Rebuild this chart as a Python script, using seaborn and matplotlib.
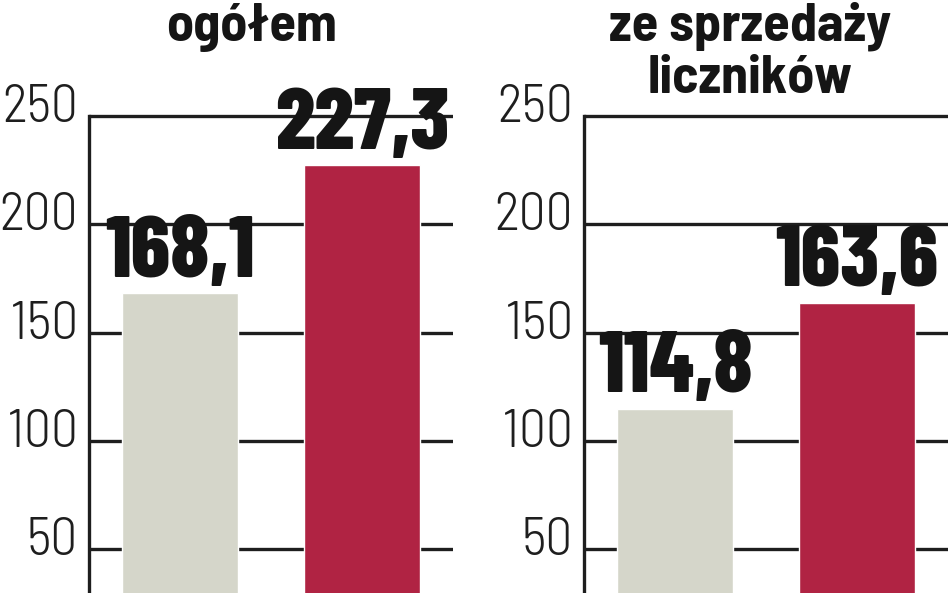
import matplotlib
matplotlib.use("Agg")
import matplotlib.pyplot as plt
import matplotlib.transforms as mtransforms
from matplotlib import font_manager as fm
import seaborn as sns
import pandas as pd

# dane (mln zl)
okresy = ["okres 1", "okres 2"]
przychody_ogolem = [168.1, 227.3]
przychody_liczniki = [114.8, 163.6]
tytul_lewy = ["ogółem"]
tytul_prawy = ["ze sprzedaży", "liczników"]
ticki = [50, 100, 150, 200, 250]
kolory = ["#d5d6ca", "#b02343"]

sns.set_theme(style="white")


def jest(nazwa):
    try:
        fm.findfont(fm.FontProperties(family=nazwa), fallback_to_default=False)
        return True
    except Exception:
        return False


# waskie czcionki, jesli sa
pol_waska = "Barlow Semi Condensed" if jest("Barlow Semi Condensed") else "DejaVu Sans"
waska = "Barlow Condensed" if jest("Barlow Condensed") else pol_waska
plt.rcParams['font.family'] = [pol_waska, 'DejaVu Sans']

fig = plt.figure(figsize=(9.48, 5.93), dpi=100)
ax1 = fig.add_axes([89/948, 0, 364/948, 1])
ax2 = fig.add_axes([584/948, 0, 364/948, 1])

ymin, ymax = 29.7, 303.6
ciemny = "#1e1e1e"

for ax, vals in [(ax1, przychody_ogolem), (ax2, przychody_liczniki)]:
    df = pd.DataFrame({"okres": okresy, "wartosc": vals})
    sns.barplot(data=df, x="okres", y="wartosc", hue="okres", palette=kolory,
                width=0.64, saturation=1, legend=False, ax=ax, zorder=2)
    ax.set_xlim(-0.5, 1.5)
    ax.set_ylim(ymin, ymax)
    ax.set_yticks(ticki)
    ax.set_xticks([])
    ax.set_xlabel("")
    ax.set_ylabel("")
    ax.yaxis.grid(True, color=ciemny, lw=2.4, zorder=0)
    ax.set_axisbelow(True)
    for s in ["top", "right", "bottom"]:
        ax.spines[s].set_visible(False)
    ax.spines["left"].set_color(ciemny)
    ax.spines["left"].set_linewidth(2.4)
    ax.spines["left"].set_bounds(ymin, 250)
    ax.tick_params(axis="y", length=0, pad=8, labelsize=38.5, labelcolor=ciemny)
    for t in ax.get_yticklabels():
        t.set_fontweight(300)
    # etykiety osi lekko nad linia siatki
    for tick in ax.yaxis.get_major_ticks():
        tick.label1.set_transform(tick.label1.get_transform() +
                                  mtransforms.ScaledTranslation(0, 13/100, fig.dpi_scale_trans))
    for i, v in enumerate(vals):
        ax.annotate(f"{v:.1f}".replace(".", ","), xy=(i, v), xytext=(0, 12),
                    textcoords="offset points", ha="center", va="baseline",
                    fontsize=63, fontweight=800, family=[waska, 'DejaVu Sans'],
                    color="#151515", zorder=5)

# tytuly (gorne linie uciete w oryginale)
for k, linia in enumerate(tytul_lewy):
    fig.text(252/948, 1 - (41 + 52*k)/593, linia, ha="center", va="baseline",
             fontsize=39, fontweight="bold", color="#151515")
for k, linia in enumerate(tytul_prawy):
    fig.text(750/948, 1 - (41 + 52*k)/593, linia, ha="center", va="baseline",
             fontsize=39, fontweight="bold", color="#151515")

fig.savefig("out.png", dpi=100)
